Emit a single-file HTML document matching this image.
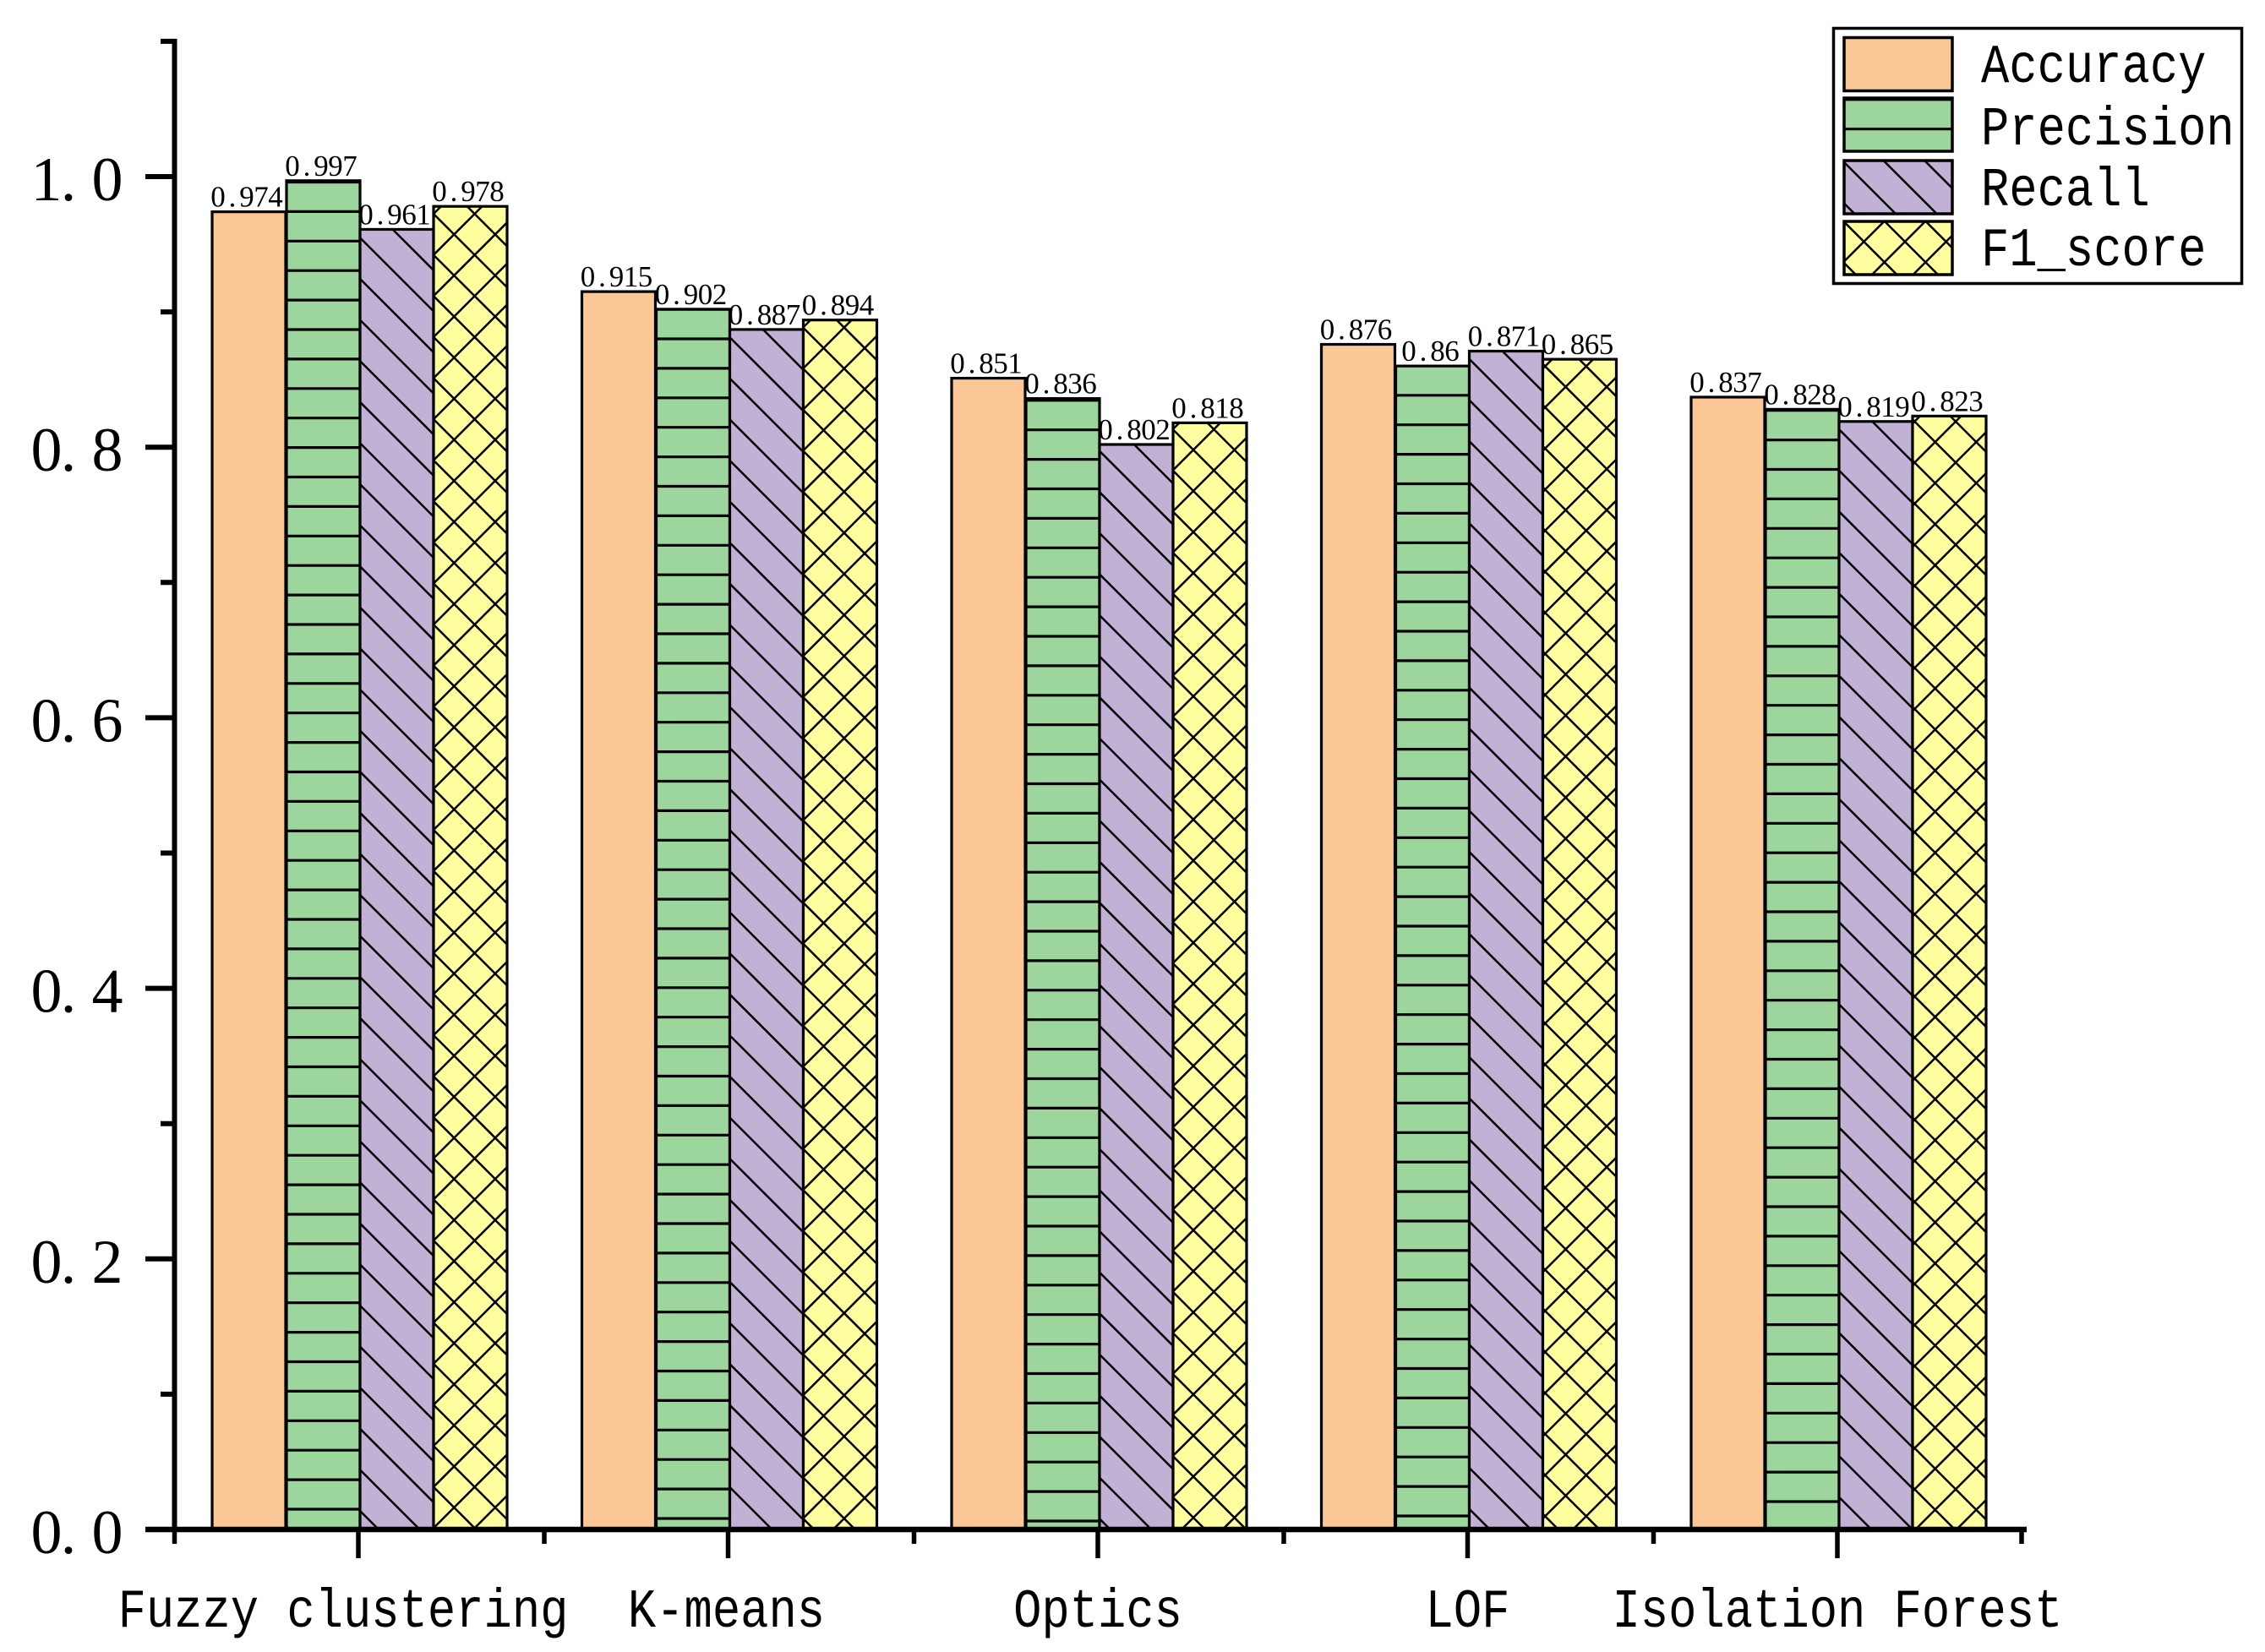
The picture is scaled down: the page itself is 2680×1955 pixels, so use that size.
<!DOCTYPE html>
<html lang="en">
<head>
<meta charset="utf-8">
<title>Clustering algorithm metrics bar chart</title>
<style>
  html, body { margin: 0; padding: 0; background: #fff; }
  svg { display: block; }
</style>
</head>
<body>
<svg id="chart" xmlns="http://www.w3.org/2000/svg" width="2680" height="1955" viewBox="0 0 2680 1955">
  <rect x="0" y="0" width="2680" height="1955" fill="#ffffff"></rect>
  <defs id="clips"></defs>
  <g id="labels"></g>
  <g id="bars"></g>
  <g id="axes"></g>
  <g id="legend"></g>
</svg>
<script>
const categories = ["Fuzzy clustering", "K-means", "Optics", "LOF", "Isolation Forest"];
const accuracy = [0.974, 0.915, 0.851, 0.876, 0.837];
const precision = [0.997, 0.902, 0.836, 0.86, 0.828];
const recall = [0.961, 0.887, 0.802, 0.871, 0.819];
const f1Score = [0.978, 0.894, 0.818, 0.865, 0.823];
const seriesNames = ["Accuracy", "Precision", "Recall", "F1_score"];
const yTicks = [0, 0.1, 0.2, 0.3, 0.4, 0.5, 0.6, 0.7, 0.8, 0.9, 1.0, 1.1];
const yTickLabels = ["0.0", "", "0.2", "", "0.4", "", "0.6", "", "0.8", "", "1.0", ""];

const seriesValues = [accuracy, precision, recall, f1Score];
const seriesColors = ["#fbc797", "#9dd69d", "#c0b1d5", "#fffe9e"];
const seriesHatch = ["none", "h", "b", "x"];

/* hatch phases per group: purely decorative styling */
const greenOffset = [24, 13, 10, 16, 33];
const purpleOffset = [22, 1.4, 12.7, 24.3, 38.3];
const yellowDx = [24.3, 24, 24, 27, 26.7];
const yellowOffset = [26, 37.3, 14, 40, 23.3];
const labelNudge = [-18, -2, 0, 0, 0];

const NS = "http://www.w3.org/2000/svg";
const BASE = 1810, UNIT = 1601;
const X0 = 206.5, GROUP = 437.5, BAR_W = 87;
const H_PERIOD = 34.9, D_PERIOD = 48.6;

function yScale(v) { return BASE - UNIT * v; }
function groupCenter(i) { return 424 + GROUP * i; }
function barLeft(i, j) { return groupCenter(i) - 173 + BAR_W * j + (j > 0 ? 1 : 0); }

function make(tag, attrs, parent) {
  const el = document.createElementNS(NS, tag);
  for (const k in attrs) el.setAttribute(k, attrs[k]);
  parent.appendChild(el);
  return el;
}

function hatchPath(kind, left, top, w, h, anchorX, anchorY) {
  let d = "";
  const right = left + w, bottom = top + h;
  if (kind === "h") {
    for (let y = anchorY; y >= top; y -= H_PERIOD) {
      d += "M" + left + " " + y.toFixed(1) + "H" + right;
    }
    for (let y = anchorY + H_PERIOD; y <= bottom; y += H_PERIOD) {
      d += "M" + left + " " + y.toFixed(1) + "H" + right;
    }
  }
  if (kind === "b" || kind === "x") {
    const c0 = anchorY - anchorX;
    const kMin = Math.floor((top - right - c0) / D_PERIOD);
    const kMax = Math.ceil((bottom - left - c0) / D_PERIOD);
    for (let k = kMin; k <= kMax; k++) {
      const c = c0 + k * D_PERIOD;
      d += "M" + left + " " + (left + c).toFixed(1) + "L" + right + " " + (right + c).toFixed(1);
    }
  }
  if (kind === "x") {
    const c0 = anchorY + anchorX;
    const kMin = Math.floor((top + left - c0) / D_PERIOD);
    const kMax = Math.ceil((bottom + right - c0) / D_PERIOD);
    for (let k = kMin; k <= kMax; k++) {
      const c = c0 + k * D_PERIOD;
      d += "M" + left + " " + (c - left).toFixed(1) + "L" + right + " " + (c - right).toFixed(1);
    }
  }
  return d;
}

let clipCount = 0;
function drawHatch(parent, kind, left, top, w, h, ax, ay) {
  if (kind === "none") return;
  const defs = document.getElementById("clips");
  const id = "clip" + (clipCount++);
  const cp = make("clipPath", { id: id }, defs);
  make("rect", { x: left, y: top, width: w, height: h }, cp);
  const p = make("path", {
    d: hatchPath(kind, left, top, w, h, ax, ay),
    fill: "none",
    stroke: "#000",
    "stroke-width": kind === "h" ? 3.2 : 2.5,
    "clip-path": "url(#" + id + ")"
  }, parent);
  
  
}

function glyphXs(str, cx, cell, dotShift) {
  const n = str.length;
  const start = cx - (n - 1) * cell / 2;
  const xs = [];
  for (let i = 0; i < n; i++) {
    xs.push((start + i * cell + (str[i] === "." ? dotShift : 0)).toFixed(1));
  }
  return xs.join(" ");
}

/* ---------- bars and value labels ---------- */
const barsG = document.getElementById("bars");
const labelsG = document.getElementById("labels");

categories.forEach(function (cat, i) {
  seriesValues.forEach(function (vals, j) {
    const v = vals[i];
    const left = barLeft(i, j);
    const top = yScale(v);
    const h = BASE - top;

    const g = make("g", {}, barsG);
    
    

    const fill = make("rect", { x: left, y: top, width: BAR_W, height: h, fill: seriesColors[j] }, g);
    
    

    let ax = left, ay = BASE;
    if (seriesHatch[j] === "h") { ay = BASE - greenOffset[i]; }
    if (seriesHatch[j] === "b") { ay = BASE - purpleOffset[i]; }
    if (seriesHatch[j] === "x") { ax = left + yellowDx[i]; ay = BASE - yellowOffset[i]; }
    drawHatch(g, seriesHatch[j], left, top, BAR_W, h, ax, ay);

    const outline = make("rect", {
      x: left, y: top, width: BAR_W, height: h,
      fill: "none", stroke: "#000", "stroke-width": 3.2
    }, g);
    
    

    const txt = String(v);
    const label = make("text", {
      x: glyphXs(txt, left + BAR_W / 2 - 2.5, 17, 0),
      y: top - 6,
      "text-anchor": "middle",
      "font-family": '"Liberation Serif", serif',
      "font-size": 35,
      fill: "#000"
    }, labelsG);
    label.textContent = txt;
    
    
  });
});

/* ---------- axes ---------- */
const axesG = document.getElementById("axes");

yTicks.forEach(function (t, idx) {
  const y = yScale(t);
  const major = yTickLabels[idx] !== "";
  const tick = make("line", {
    x1: major ? 172 : 190, x2: X0, y1: y, y2: y,
    stroke: "#000", "stroke-width": 6
  }, axesG);
  
  
  if (major) {
    const lab = make("text", {
      x: glyphXs(yTickLabels[idx], 91, 36, -10),
      y: y + 28,
      "text-anchor": "middle",
      "font-family": '"Liberation Serif", serif',
      "font-size": 74,
      fill: "#000"
    }, axesG);
    lab.textContent = yTickLabels[idx];
    
    
  }
});

const yAxis = make("line", {
  x1: X0, x2: X0, y1: yScale(yTicks[yTicks.length - 1]) - 3, y2: BASE,
  stroke: "#000", "stroke-width": 6
}, axesG);



const xAxis = make("line", {
  x1: 172, x2: 2398, y1: BASE, y2: BASE,
  stroke: "#000", "stroke-width": 6.5
}, axesG);



for (let i = 0; i <= categories.length; i++) {
  const mx = X0 + GROUP * i - (i === categories.length ? 2 : 0);
  const minor = make("line", {
    x1: mx, x2: mx, y1: BASE, y2: 1827,
    stroke: "#000", "stroke-width": 5.5
  }, axesG);
  
  
}

function wordText(parent, str, x, y, anchor) {
  const t = make("text", {
    transform: "translate(" + x + "," + y + ") scale(1,1.175)",
    "text-anchor": anchor,
    "font-family": '"Liberation Mono", monospace',
    "font-size": 55.5,
    fill: "#000"
  }, parent);
  t.setAttribute("xml:space", "preserve");
  t.textContent = str;
  return t;
}

categories.forEach(function (cat, i) {
  const c = groupCenter(i);
  const tick = make("line", {
    x1: c, x2: c, y1: BASE, y2: 1844,
    stroke: "#000", "stroke-width": 5.5
  }, axesG);
  
  
  const lab = wordText(axesG, cat, c + labelNudge[i], 1925, "middle");
  
  
});

/* ---------- legend ---------- */
const legendG = document.getElementById("legend");
const legendBox = make("rect", {
  x: 2169.5, y: 33.5, width: 483, height: 302,
  fill: "#fff", stroke: "#000", "stroke-width": 3.5
}, legendG);



const swatchX = 2182, swatchW = 128, swatchH = 63;
const swatchTops = [44.5, 116, 190, 262];
const legendBaselines = [97, 171, 243, 314];
const swatchAnchorX = [0, 0, 2182, 2205.4];
const swatchAnchorY = [0, 152.7, 192, 286];

seriesNames.forEach(function (name, j) {
  const g = make("g", {}, legendG);
  
  

  const top = swatchTops[j];
  const sw = make("rect", { x: swatchX, y: top, width: swatchW, height: swatchH, fill: seriesColors[j] }, g);
  
  

  drawHatch(g, seriesHatch[j], swatchX, top, swatchW, swatchH, swatchAnchorX[j], swatchAnchorY[j]);

  const outline = make("rect", {
    x: swatchX, y: top, width: swatchW, height: swatchH,
    fill: "none", stroke: "#000", "stroke-width": 3.5
  }, g);
  
  

  const lab = wordText(g, name, 2344, legendBaselines[j], "start");
  
  
});
</script>
</body>
</html>
